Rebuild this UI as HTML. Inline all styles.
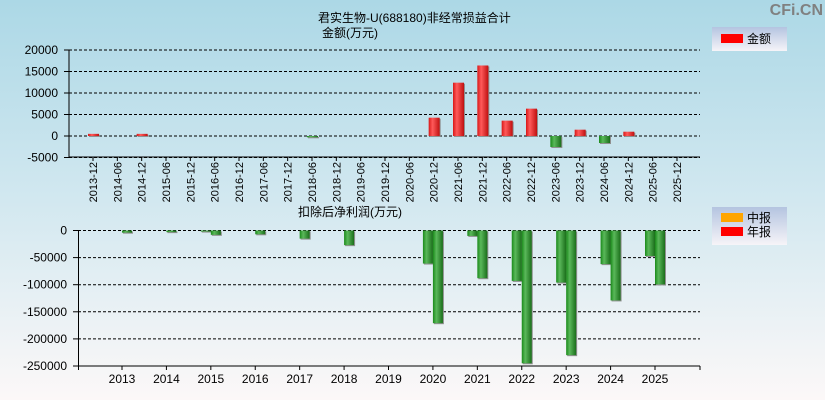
<!DOCTYPE html>
<html><head><meta charset="utf-8">
<style>
html,body{margin:0;padding:0}
body{width:825px;height:400px;overflow:hidden;font-family:"Liberation Sans","Noto Sans CJK SC",sans-serif}
svg text{font-family:"Liberation Sans","Noto Sans CJK SC",sans-serif}
</style></head>
<body>
<svg id="c" width="825" height="400" xmlns="http://www.w3.org/2000/svg">
<defs>
<linearGradient id="bg" x1="0" y1="0" x2="0" y2="1">
<stop offset="0" stop-color="#acd8e6"/><stop offset="0.5" stop-color="#d2e8f0"/><stop offset="1" stop-color="#fcf8f8"/>
</linearGradient>
<linearGradient id="red" x1="0" y1="0" x2="1" y2="0">
<stop offset="0" stop-color="#d81818"/><stop offset="0.35" stop-color="#ff5a5a"/><stop offset="1" stop-color="#c01010"/>
</linearGradient>
<linearGradient id="green" x1="0" y1="0" x2="1" y2="0">
<stop offset="0" stop-color="#1a8a1a"/><stop offset="0.35" stop-color="#5ab85a"/><stop offset="1" stop-color="#1a6e1a"/>
</linearGradient>
<linearGradient id="leg" x1="0" y1="0" x2="0" y2="1">
<stop offset="0" stop-color="#b4c4e0"/><stop offset="1" stop-color="#f6f4f8"/>
</linearGradient>
</defs>
<rect width="825" height="400" fill="url(#bg)"/>
<text x="823" y="15" text-anchor="end" font-size="16" font-weight="bold" fill="#808080">CFi.CN</text>
<text x="318" y="22" font-size="12" fill="#000">君实生物-U(688180)非经常损益合计</text>
<text x="322" y="37" font-size="12" fill="#000">金额(万元)</text>
<text x="298" y="216" font-size="12" fill="#000">扣除后净利润(万元)</text>
<g>
<rect x="712" y="27" width="75" height="24" fill="url(#leg)"/>
<rect x="721" y="34" width="22" height="9" fill="#ff0000"/>
<text x="747" y="43" font-size="12">金额</text>
</g>
<g>
<rect x="712" y="207" width="75" height="38" fill="url(#leg)"/>
<rect x="721" y="213" width="22" height="9" fill="#ffa500"/>
<text x="747" y="222" font-size="12">中报</text>
<rect x="721" y="227" width="22" height="9" fill="#ff0000"/>
<text x="747" y="236" font-size="12">年报</text>
</g>
<g id="top"></g>
<g id="bot"></g>
</svg>
<script>
const topCats = ["2013-12","2014-06","2014-12","2015-06","2015-12","2016-06","2016-12","2017-06","2017-12","2018-06","2018-12","2019-06","2019-12","2020-06","2020-12","2021-06","2021-12","2022-06","2022-12","2023-06","2023-12","2024-06","2024-12","2025-06","2025-12"];
const topValues = [500,0,500,0,0,0,0,0,0,-300,0,0,0,0,4260,12400,16400,3570,6360,-2560,1470,-1630,1000,0,0];
const topTicks = [20000,15000,10000,5000,0,-5000];
const botYears = ["2013","2014","2015","2016","2017","2018","2019","2020","2021","2022","2023","2024","2025"];
const botInterim = [0,0,-2000,0,0,0,0,-61000,-10000,-93000,-96000,-62000,-47000];
const botAnnual = [-4000,-3000,-8000,-7000,-15000,-27000,0,-171000,-88000,-245000,-230000,-129000,-99500];
const botTicks = [0,-50000,-100000,-150000,-200000,-250000];

const NS="http://www.w3.org/2000/svg";
function mk(tag,attrs,parent,txt){const e=document.createElementNS(NS,tag);for(const k in attrs)e.setAttribute(k,attrs[k]);if(txt!==undefined)e.textContent=txt;parent.appendChild(e);return e;}

// top chart
const T=document.getElementById('top');
const tyS=v=>136-(v/20000)*86;
const tStep=(677-93)/24;
const txC=i=>93+i*tStep;
topTicks.forEach(t=>{
  const y=tyS(t);
  const g=mk('line',{x1:69,x2:700,y1:y,y2:y,stroke:'#000','stroke-dasharray':'3,2','stroke-width':1},T);
  
  
  mk('line',{x1:64,x2:69,y1:y,y2:y,stroke:'#000'},T);
  const l=mk('text',{x:58,y:y+4,'text-anchor':'end','font-size':12,fill:'#000'},T,String(t));
  
  
});
mk('line',{x1:69,x2:69,y1:50,y2:157,stroke:'#000'},T);
mk('line',{x1:69,x2:700,y1:157,y2:157,stroke:'#000'},T);
topCats.forEach((c,i)=>{
  const x=txC(i);
  if(x>700)return;
  mk('line',{x1:x,x2:x,y1:157,y2:161,stroke:'#000'},T);
  const l=mk('text',{x:0,y:0,'text-anchor':'end','font-size':11,fill:'#000',transform:`translate(${x+4},162) rotate(-90)`},T,c);
  
  
  const v=topValues[i];
  if(v!==0){
    const y0=tyS(0),y1=tyS(v);
    const yy=Math.min(y0,y1),h=Math.max(1,Math.abs(y1-y0));
    mk('rect',{x:x-4,y:yy+1,width:11,height:h,fill:'#909090'},T);
    const b=mk('rect',{x:x-5,y:yy,width:11,height:h,fill:v>0?'url(#red)':'url(#green)'},T);
    
    
  }
});

// bottom chart
const B=document.getElementById('bot');
const byS=v=>230.5+(v/-250000)*135.5;
const bStep=(655-122)/12;
const bxC=i=>122+i*bStep;
botTicks.forEach(t=>{
  const y=byS(t);
  const g=mk('line',{x1:78,x2:700,y1:y,y2:y,stroke:'#000','stroke-dasharray':'3,2'},B);
  
  
  mk('line',{x1:73,x2:78,y1:y,y2:y,stroke:'#000'},B);
  const l=mk('text',{x:67,y:y+4,'text-anchor':'end','font-size':12,fill:'#000'},B,String(t));
  
  
});
mk('line',{x1:78.5,x2:78.5,y1:230,y2:366,stroke:'#000'},B);
mk('line',{x1:78,x2:700,y1:366,y2:366,stroke:'#000'},B);
mk('line',{x1:78.5,x2:78.5,y1:366,y2:370,stroke:'#000'},B);
mk('line',{x1:700,x2:700,y1:366,y2:370,stroke:'#000'},B);
botYears.forEach((yr,i)=>{
  const x=bxC(i);
  mk('line',{x1:x,x2:x,y1:366,y2:370,stroke:'#000'},B);
  const l=mk('text',{x:x,y:383,'text-anchor':'middle','font-size':12,fill:'#000'},B,yr);
  
  
  [[botInterim[i],x-10,'interim'],[botAnnual[i],x,'annual']].forEach(([v,bx,kind])=>{
    if(v===0)return;
    const y0=byS(0),y1=byS(v);
    const h=Math.max(1,y1-y0);
    mk('rect',{x:bx+1,y:y0+1,width:10,height:h,fill:'#909090'},B);
    const b=mk('rect',{x:bx,y:y0,width:10,height:h,fill:'url(#green)'},B);
    
    
  });
});
</script>
</body></html>
